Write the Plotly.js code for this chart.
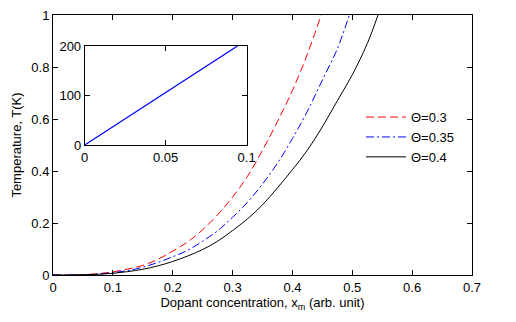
<!DOCTYPE html>
<html>
<head>
<meta charset="utf-8">
<script src="https://cdn.plot.ly/plotly-3.0.1.min.js"></script>
<style>
  html, body { margin: 0; padding: 0; background: #fff; }
  #chart { width: 516px; height: 322px; }
</style>
</head>
<body>
<div id="chart"></div>
<script>
// values
let xTheta03 = [0, 0.025, 0.05, 0.075, 0.1, 0.125, 0.15, 0.175, 0.2, 0.225, 0.25, 0.275, 0.3, 0.325, 0.35, 0.375, 0.4, 0.425, 0.448];
let yTheta03 = [0, 0.0003, 0.0014, 0.005, 0.012, 0.023, 0.037, 0.06, 0.092, 0.127, 0.174, 0.232, 0.30, 0.38, 0.48, 0.59, 0.71, 0.85, 1.0];

let xTheta035 = [0, 0.025, 0.05, 0.075, 0.1, 0.125, 0.15, 0.175, 0.2, 0.225, 0.25, 0.275, 0.3, 0.325, 0.35, 0.375, 0.4, 0.425, 0.45, 0.475, 0.495];
let yTheta035 = [0, 0.0002, 0.001, 0.0035, 0.009, 0.017, 0.03, 0.048, 0.07, 0.095, 0.13, 0.17, 0.222, 0.28, 0.35, 0.43, 0.525, 0.63, 0.75, 0.87, 1.0];

let xTheta04 = [0, 0.025, 0.05, 0.075, 0.1, 0.125, 0.15, 0.175, 0.2, 0.225, 0.25, 0.275, 0.3, 0.325, 0.35, 0.375, 0.4, 0.425, 0.45, 0.475, 0.5, 0.525, 0.543];
let yTheta04 = [0, 0.0001, 0.0008, 0.0027, 0.0065, 0.013, 0.022, 0.035, 0.052, 0.073, 0.098, 0.13, 0.171, 0.216, 0.27, 0.335, 0.405, 0.48, 0.57, 0.67, 0.77, 0.89, 1.0];

let xInset = [0, 0.0944];
let yInset = [0, 200];

let seriesNames = ['\u0398=0.3', '\u0398=0.35', '\u0398=0.4'];

let font = { family: 'Liberation Sans, Arial, sans-serif', size: 13, color: '#000' };

let data = [{
    x: xTheta03, y: yTheta03, name: seriesNames[0],
    mode: 'lines', line: { color: '#ff0000', width: 1, dash: '8px,4px', shape: 'spline' },
}, {
    x: xTheta035, y: yTheta035, name: seriesNames[1],
    mode: 'lines', line: { color: '#0000ff', width: 1, dash: '8px,3px,2px,3px', shape: 'spline' },
}, {
    x: xTheta04, y: yTheta04, name: seriesNames[2],
    mode: 'lines', line: { color: '#000000', width: 1, shape: 'spline' },
}, {
    x: xInset, y: yInset, xaxis: 'x2', yaxis: 'y2', showlegend: false,
    mode: 'lines', line: { color: '#0000ff', width: 1.2 },
}];

let axisBase = {
    showline: true, linecolor: '#000', linewidth: 1,
    mirror: 'ticks', ticks: 'inside', ticklen: 5, tickcolor: '#000', tickwidth: 1,
    showgrid: false, zeroline: false, tickfont: font,
};

let layout = {
    width: 516,
    height: 322,
    margin: { l: 53, r: 44, t: 15, b: 47, pad: 0 },
    paper_bgcolor: '#fff',
    plot_bgcolor: '#fff',
    font: font,
    showlegend: true,
    legend: {
        x: 0.735, y: 0.665, xanchor: 'left', yanchor: 'top',
        bgcolor: 'rgba(0,0,0,0)', borderwidth: 0,
        font: font, itemwidth: 40, tracegroupgap: 0,
    },
    xaxis: Object.assign({}, axisBase, {
        range: [0, 0.7], dtick: 0.1, tick0: 0, domain: [0, 1], anchor: 'y',
        title: { text: 'Dopant concentration, x<sub>m</sub> (arb. unit)', font: font, standoff: 4 },
    }),
    yaxis: Object.assign({}, axisBase, {
        range: [0, 1], dtick: 0.2, tick0: 0, domain: [0, 1], anchor: 'x',
        title: { text: 'Temperature, T(K)', font: font, standoff: 6 },
    }),
    xaxis2: Object.assign({}, axisBase, {
        range: [0, 0.1], dtick: 0.05, tick0: 0, domain: [0.0757, 0.462], anchor: 'y2',
    }),
    yaxis2: Object.assign({}, axisBase, {
        range: [0, 200], dtick: 100, tick0: 0, domain: [0.5, 0.881], anchor: 'x2',
    }),
};

let config = { staticPlot: true };

Plotly.newPlot('chart', data, layout, config);
</script>
</body>
</html>
